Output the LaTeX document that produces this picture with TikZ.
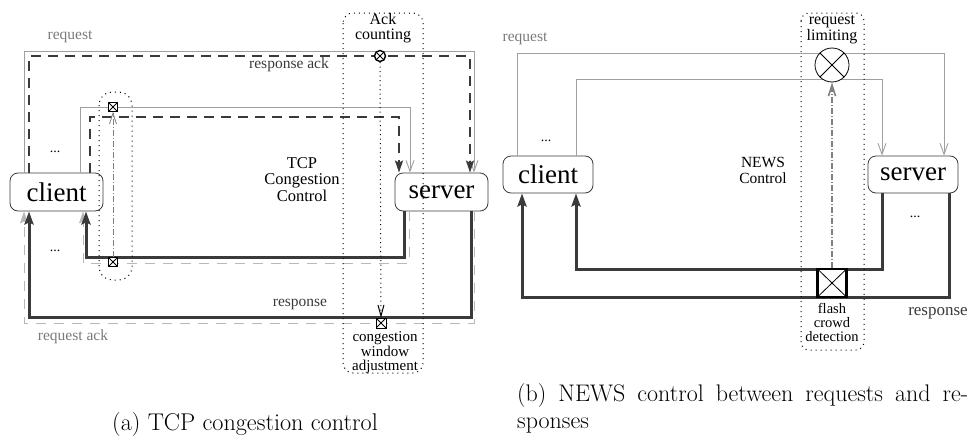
\documentclass[tikz,border=0pt]{standalone}
\usepackage{fontspec}
\newfontfamily\diafont{Liberation Serif}
\usepackage{xcolor}
\usepackage{tikz}
\usetikzlibrary{arrows.meta, positioning, calc}

\definecolor{wire}{HTML}{A0A0A0}
\definecolor{txtgray}{HTML}{7A7A7A}
\definecolor{dark}{HTML}{3A3A3A}
\definecolor{ackgray}{HTML}{B8B8B8}

\tikzset{
  host/.style={draw=dark, line width=0.8pt, rounded corners=8pt, minimum width=93pt,
    minimum height=38pt, inner sep=0pt, font=\diafont\fontsize{27}{27}\selectfont},
  lbl/.style={inner sep=0pt, align=center, font=\diafont\fontsize{15.5}{15}\selectfont},
  req/.style={draw=wire, line width=0.9pt, -{Straight Barb[length=11pt,width=8pt]}},
  resp/.style={draw=dark, line width=3pt, -{Stealth[length=13pt,width=9pt,inset=2pt]}},
  ackline/.style={draw=dark, line width=1.8pt, dash pattern=on 10pt off 7pt,
    -{Stealth[length=12pt,width=8pt,inset=2pt]}},
  reqack/.style={draw=ackgray, line width=0.9pt, dash pattern=on 10pt off 8pt,
    -{Stealth[length=12pt,width=8pt,inset=2pt]}},
  ctl/.style={draw=gray, line width=0.8pt, dash pattern=on 6pt off 2pt on 1pt off 2pt,
    -{Straight Barb[length=11pt,width=7pt]}},
  probe/.style={draw=black, line width=1pt, dash pattern=on 1pt off 3.5pt,
    -{Straight Barb[length=11pt,width=6pt]}},
  frame/.style={draw=black, line width=1pt, dash pattern=on 1pt off 4pt, rounded corners=10pt},
  xmark/.style={draw, fill=white, inner sep=0pt, path picture={
    \draw[line width=0.8pt] (path picture bounding box.north west) -- (path picture bounding box.south east)
      (path picture bounding box.south west) -- (path picture bounding box.north east);}},
  mult/.style={xmark, circle},
  gate/.style={xmark, rectangle}
}

\begin{document}
\begin{tikzpicture}[x=1pt, y=-1pt]
  \useasboundingbox (0,0) rectangle (971,439);

  % (a) TCP congestion control
  \node[host] (client) at (56.5,192) {client};
  \node[host] (server) at (441.5,192) {server};

  \draw[req] (client.north -| 24,0) |- (474,51) -- (server.north -| 474,0);
  \draw[req] (client.north -| 80,0) |- (410,107) -- (server.north -| 410,0);
  \draw[ackline] (client.north -| 29,0) |- (470,56) -- (server.north -| 470,0);
  \draw[ackline] (client.north -| 90,0) |- (399,117) -- (server.north -| 399,0);
  \draw[reqack] (server.south -| 474,0) |- (24,323) -- (client.south -| 24,0);
  \draw[reqack] (server.south -| 409,0) |- (83,263) -- (client.south -| 83,0);
  \draw[resp] (server.south -| 471,0) |- (29,317) -- (client.south -| 29,0);
  \draw[resp] (server.south -| 404,0) |- (86,257) -- (client.south -| 86,0);

  \draw[frame, rounded corners=13pt] (99,92) rectangle (132,280);
  \draw[frame] (343,13) rectangle (423,373);

  \node[mult, minimum size=11pt, line width=1.4pt] (ackx) at (380,56) {};
  \node[gate, minimum size=9pt] (upgate) at (113,107) {};
  \node[gate, minimum size=9pt] (lowgate) at (113,262) {};
  \node[gate, minimum size=10pt] (cwgate) at (381,323) {};
  \draw[ctl] (lowgate.north) -- (upgate.south);
  \draw[probe] (ackx.south) -- (cwgate.north);

  \node[lbl, text=txtgray] (reqlbl) at (70,37) {request};
  \node[lbl, text=dark] (acklbl) at (289,65) {response ack};
  \node[lbl, text=dark] (resplbl) at (300,304) {response};
  \node[lbl, text=txtgray] (reqacklbl) at (73,337) {request ack};
  \node[lbl, font=\diafont\fontsize{16}{15.5}\selectfont] (countlbl) at (383,28) {Ack\\counting};
  \node[lbl, font=\diafont\fontsize{15}{14.5}\selectfont] (cwlbl) at (385,353) {congestion\\window\\adjustment};
  \node[lbl, font=\diafont\fontsize{16.5}{15.5}\selectfont] (tcplbl) at (302,180) {TCP\\Congestion\\[2pt]Control};
  \node[lbl, font=\diafont\fontsize{14}{14}\selectfont] (dotsa) at (55,152) {...};
  \node[lbl, font=\diafont\fontsize{14}{14}\selectfont] (dotsb) at (55,251) {...};

  % (b) NEWS control
  \node[host, minimum width=90pt, minimum height=37pt] (clientb) at (548,174.5) {client};
  \node[host, minimum width=90pt, minimum height=37pt] (serverb) at (913,174.5) {server};

  \draw[req] (clientb.north -| 517,0) |- (944,53) -- (serverb.north -| 944,0);
  \draw[req] (clientb.north -| 576,0) |- (882,79) -- (serverb.north -| 882,0);
  \draw[resp] (serverb.south -| 882,0) |- (576,269) -- (clientb.south -| 576,0);
  \draw[resp] (serverb.south -| 949,0) |- (522,297) -- (clientb.south -| 522,0);

  \draw[frame, rounded corners=8pt] (801,13) rectangle (864,350);

  \node[mult, minimum size=34pt, line width=0.8pt] (limiter) at (832,65) {};
  \node[gate, minimum width=29pt, minimum height=28pt, line width=2.5pt] (flashgate) at (832,283) {};
  \draw[ctl, line width=1.6pt] (flashgate.north) -- (limiter.south);

  \node[lbl, text=txtgray] (reqlblb) at (525,39) {request};
  \node[lbl, font=\diafont\fontsize{16}{16}\selectfont] (limitlbl) at (832,30) {request\\limiting};
  \node[lbl, font=\diafont\fontsize{15.5}{15.5}\selectfont] (newslbl) at (763,170.5) {NEWS\\Control};
  \node[lbl, font=\diafont\fontsize{14.5}{14}\selectfont] (flashlbl) at (832,322) {flash\\crowd\\detection};
  \node[lbl, text=dark, font=\diafont\fontsize{17}{17}\selectfont] (resplblb) at (938,313) {response};
  \node[lbl, font=\diafont\fontsize{14}{14}\selectfont] (dotsc) at (546,141) {...};
  \node[lbl, font=\diafont\fontsize{14}{14}\selectfont] (dotsd) at (915,217) {...};

  % captions
  \node[anchor=base west, inner sep=0pt, font=\fontsize{24.2}{28}\selectfont] (capa) at (112,430)
    {(a) TCP congestion control};
  \node[anchor=north west, inner sep=0pt, text width=451pt, align=justify,
    font=\fontsize{24}{27}\selectfont] (capb) at (517,383)
    {(b) NEWS control between requests and re-\linebreak sponses};
\end{tikzpicture}
\end{document}
